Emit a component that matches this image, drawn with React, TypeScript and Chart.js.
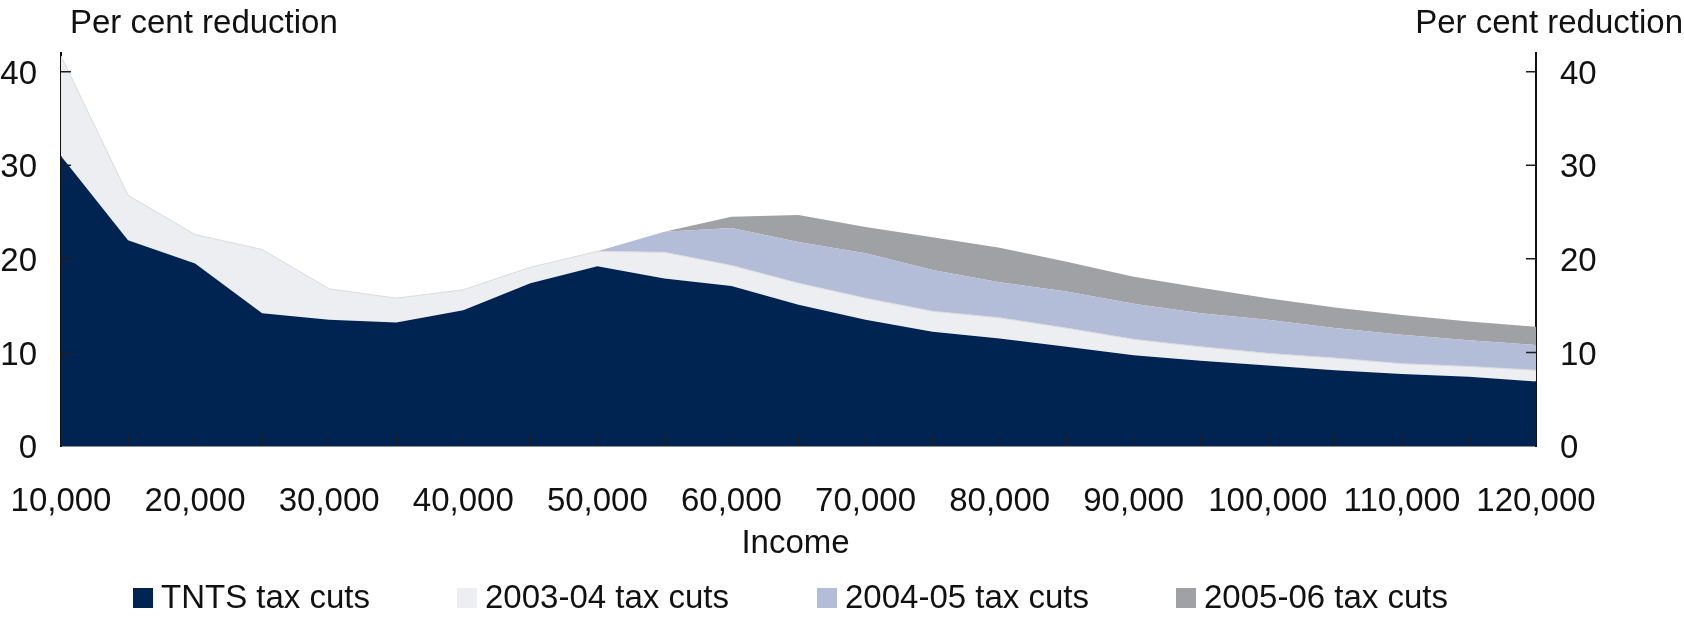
import React, { useEffect, useRef } from "react";
import { Chart, registerables } from "chart.js";

Chart.register(...registerables);

const INCOME = [
  10000, 15000, 20000, 25000, 30000, 35000, 40000, 45000, 50000, 55000, 60000, 65000,
  70000, 75000, 80000, 85000, 90000, 95000, 100000, 105000, 110000, 115000, 120000,
];

const TNTS = [31.0, 22.0, 19.5, 14.2, 13.5, 13.2, 14.5, 17.4, 19.2, 17.9, 17.1, 15.1, 13.5, 12.2, 11.5, 10.6, 9.7, 9.1, 8.6, 8.1, 7.7, 7.4, 6.9];
const CUTS_0304 = [10.7, 4.8, 3.1, 6.8, 3.3, 2.6, 2.2, 1.7, 1.6, 2.8, 2.2, 2.3, 2.3, 2.2, 2.2, 2.0, 1.7, 1.5, 1.3, 1.3, 1.1, 1.1, 1.2];
const CUTS_0405 = [0, 0, 0, 0, 0, 0, 0, 0, 0, 2.2, 4.0, 4.4, 4.8, 4.4, 3.8, 3.9, 3.8, 3.6, 3.6, 3.2, 3.1, 2.8, 2.7];
const CUTS_0506 = [0, 0, 0, 0, 0, 0, 0, 0, 0, 0, 1.2, 2.9, 2.8, 3.5, 3.7, 3.2, 2.9, 2.7, 2.3, 2.2, 2.1, 2.0, 1.95];

const SERIES_NAMES = ["TNTS tax cuts", "2003-04 tax cuts", "2004-05 tax cuts", "2005-06 tax cuts"];
const SERIES_COLORS = ["#002452", "#eceef1", "#b4bdd8", "#a0a1a4"];
const Y_TITLE = "Per cent reduction";
const X_TITLE = "Income";
const Y_TICKS = [0, 10, 20, 30, 40];

const FONT = '"Liberation Sans", Arial, Helvetica, sans-serif';
const FS = 33;
const W = 1684;
const H = 623;

const decor = {
  id: "decor",
  afterDraw(chart: any) {
    const { ctx, chartArea, scales } = chart;
    const { left, right, bottom } = chartArea;
    ctx.save();
    // inward tick marks
    ctx.strokeStyle = "#1e1e1e";
    ctx.lineWidth = 1.5;
    const xs = scales.x;
    xs.ticks.forEach((t: any) => {
      const px = xs.getPixelForValue(t.value);
      if (px <= left + 1 || px >= right - 1) return;
      ctx.beginPath();
      ctx.moveTo(px, bottom);
      ctx.lineTo(px, bottom - 11);
      ctx.stroke();
    });
    const ys = scales.y;
    Y_TICKS.forEach((v) => {
      if (v === 0) return;
      const py = ys.getPixelForValue(v);
      ctx.beginPath();
      ctx.moveTo(left, py);
      ctx.lineTo(left + 10, py);
      ctx.moveTo(right, py);
      ctx.lineTo(right - 10, py);
      ctx.stroke();
    });
    // titles
    ctx.fillStyle = "#111";
    ctx.font = `${FS}px ${FONT}`;
    ctx.textBaseline = "alphabetic";
    ctx.textAlign = "left";
    ctx.fillText(Y_TITLE, 70, 33);
    ctx.textAlign = "right";
    ctx.fillText(Y_TITLE, 1683, 33);
    ctx.textAlign = "center";
    ctx.fillText(X_TITLE, (left + right) / 2 - 3, 553);
    // legend
    const legendX = [133, 457, 817, 1176];
    chart.data.datasets.forEach((ds: any, i: number) => {
      const x = legendX[i];
      ctx.fillStyle = ds.backgroundColor;
      ctx.fillRect(x, 588, 20, 20);
      ctx.fillStyle = "#111";
      ctx.textAlign = "left";
      ctx.fillText(ds.label, x + 28, 608);
    });
    ctx.restore();
  },
};

export default function App() {
  const ref = useRef<HTMLCanvasElement | null>(null);
  useEffect(() => {
    if (!ref.current) return;
    const series = [TNTS, CUTS_0304, CUTS_0405, CUTS_0506];
    const chart = new Chart(ref.current, {
      type: "line",
      data: {
        datasets: series.map((vals, i) => ({
          label: SERIES_NAMES[i],
          data: INCOME.map((x, j) => ({ x, y: vals[j] })),
          backgroundColor: SERIES_COLORS[i],
          borderColor: i === 1 ? "#d8dade" : SERIES_COLORS[i],
          borderWidth: i === 1 ? 1 : 0,
          pointRadius: 0,
          tension: 0,
          fill: i === 0 ? "origin" : "-1",
        })),
      },
      options: {
        responsive: false,
        animation: false,
        devicePixelRatio: 1,
        layout: { padding: { top: 53, left: 0, right: 0, bottom: 0 } },
        plugins: { legend: { display: false }, tooltip: { enabled: false } },
        scales: {
          x: {
            type: "linear",
            min: 10000,
            max: 120000,
            z: 1,
            afterFit: (s: any) => {
              s.height = H - 446;
              s.paddingLeft = 0;
              s.paddingRight = 0;
            },
            grid: { display: false, drawTicks: false },
            border: { display: true, color: "#222", width: 1.5 },
            ticks: {
              stepSize: 5000,
              autoSkip: false,
              maxRotation: 0,
              padding: 36,
              color: "#111",
              font: { size: FS, family: FONT },
              callback: (v: any) => (Number(v) % 10000 === 0 ? Number(v).toLocaleString("en-US") : ""),
            },
          },
          y: {
            type: "linear",
            position: "left",
            stacked: true,
            min: 0,
            max: 42,
            z: 1,
            afterFit: (s: any) => {
              s.width = 61;
            },
            afterBuildTicks: (s: any) => {
              s.ticks = Y_TICKS.map((v) => ({ value: v }));
            },
            grid: { display: false, drawTicks: false },
            border: { display: true, color: "#111", width: 2 },
            ticks: {
              padding: 24,
              labelOffset: 3,
              color: "#111",
              font: { size: FS, family: FONT },
            },
          },
          y2: {
            type: "linear",
            position: "right",
            min: 0,
            max: 42,
            z: 1,
            afterFit: (s: any) => {
              s.width = W - 1536;
            },
            afterBuildTicks: (s: any) => {
              s.ticks = Y_TICKS.map((v) => ({ value: v }));
            },
            grid: { display: false, drawTicks: false },
            border: { display: true, color: "#111", width: 2 },
            ticks: {
              padding: 24,
              labelOffset: 3,
              color: "#111",
              font: { size: FS, family: FONT },
            },
          },
        },
      },
      plugins: [decor],
    });
    return () => chart.destroy();
  }, []);

  return (
    <div style={{ position: "fixed", left: 0, top: 0, width: W, height: H, background: "#fff" }}>
      <canvas ref={ref} width={W} height={H} style={{ width: W, height: H, display: "block" }} />
    </div>
  );
}
